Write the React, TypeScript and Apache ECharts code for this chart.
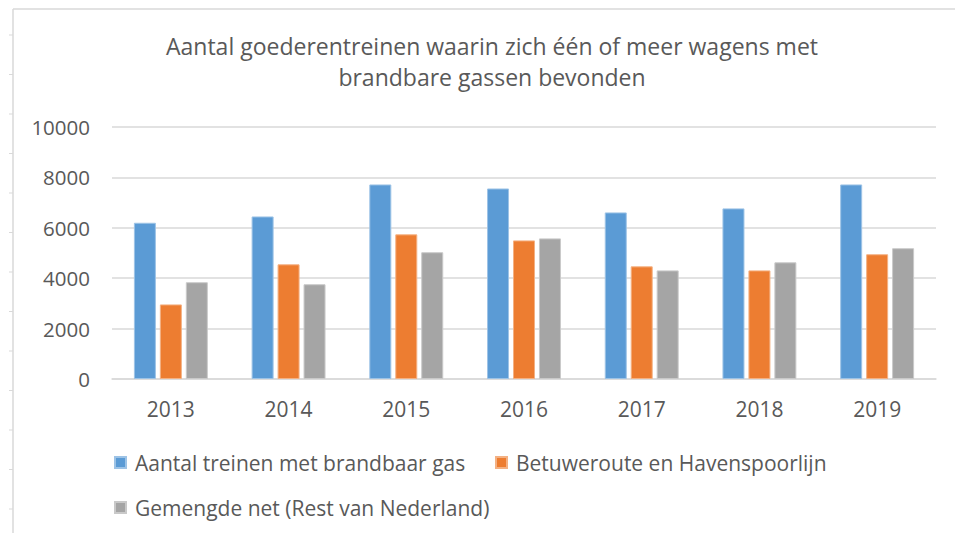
import React, { useEffect, useRef } from "react";
import * as echarts from "echarts";

const years = ["2013", "2014", "2015", "2016", "2017", "2018", "2019"];
const seriesNames = [
  "Aantal treinen met brandbaar gas",
  "Betuweroute en Havenspoorlijn",
  "Gemengde net (Rest van Nederland)",
];
const totalTrains = [6200, 6450, 7720, 7560, 6610, 6770, 7720];
const betuweroute = [2960, 4550, 5740, 5500, 4470, 4310, 4950];
const gemengdeNet = [3840, 3760, 5030, 5580, 4310, 4630, 5190];
const colors = ["#5B9BD5", "#ED7D31", "#A5A5A5"];
const borderColors = ["#9DC3E6", "#F4B183", "#C9C9C9"];
const titleText = "Aantal goederentreinen waarin zich één of meer wagens met\nbrandbare gassen bevonden";

const FONT = "'Open Sans', sans-serif";
const TXT = "#595959";

export default function App() {
  const ref = useRef<HTMLDivElement>(null);
  useEffect(() => {
    if (!ref.current) return;
    const chart = echarts.init(ref.current, undefined, { renderer: "svg" });
    const values = [totalTrains, betuweroute, gemengdeNet];
    const rulerTicks: any[] = [];
    for (let y = 35; y < 533; y += 39.5) {
      rulerTicks.push({
        type: "line",
        shape: { x1: 9, y1: y, x2: 13, y2: y },
        style: { stroke: "#D9D9D9", lineWidth: 1 },
        silent: true,
      });
    }
    const legendPos = [
      { left: 114, top: 452 },
      { left: 495, top: 452 },
      { left: 114, top: 497 },
    ];
    chart.setOption({
      animation: false,
      backgroundColor: "#ffffff",
      textStyle: { fontFamily: FONT },
      title: {
        text: titleText,
        left: 487,
        textAlign: "center",
        top: 25,
        textStyle: {
          fontFamily: FONT,
          fontSize: 23,
          fontWeight: "normal",
          color: TXT,
          lineHeight: 31,
        },
      },
      grid: { left: 112, right: 19, top: 127, bottom: 154, containLabel: false },
      xAxis: {
        type: "category",
        data: years,
        axisLine: { lineStyle: { color: "#D9D9D9", width: 1.5 } },
        axisTick: { show: false },
        axisLabel: { color: TXT, fontSize: 21, margin: 19, fontFamily: FONT },
      },
      yAxis: {
        type: "value",
        min: 0,
        max: 10000,
        interval: 2000,
        axisLine: { show: false },
        axisTick: { show: false },
        axisLabel: {
          color: TXT,
          fontSize: 20.5,
          margin: 22,
          fontFamily: FONT,
          formatter: (v: number) => String(v),
        },
        splitLine: { lineStyle: { color: "#D9D9D9", width: 1.5 } },
      },
      legend: seriesNames.map((n, i) => ({
        data: [n],
        left: legendPos[i].left,
        top: legendPos[i].top,
        padding: 0,
        itemWidth: 11,
        itemHeight: 11,
        icon: "rect",
        textStyle: { color: TXT, fontSize: 21, fontFamily: FONT, padding: [0, 0, 0, 4] },
        selectedMode: false,
      })),
      series: seriesNames.map((n, i) => ({
        name: n,
        type: "bar",
        data: values[i],
        barWidth: 22,
        barGap: "18%",
        itemStyle: { color: colors[i], borderColor: borderColors[i], borderWidth: 1 },
      })),
      graphic: [
        {
          type: "line",
          shape: { x1: 13, y1: 9, x2: 955, y2: 9 },
          style: { stroke: "#D9D9D9", lineWidth: 1.5 },
          silent: true,
        },
        {
          type: "line",
          shape: { x1: 13, y1: 9, x2: 13, y2: 533 },
          style: { stroke: "#D9D9D9", lineWidth: 1.5 },
          silent: true,
        },
        ...rulerTicks,
      ],
    });
    return () => chart.dispose();
  }, []);
  return (
    <div
      ref={ref}
      style={{ position: "fixed", left: 0, top: 0, width: 955, height: 533 }}
    />
  );
}
